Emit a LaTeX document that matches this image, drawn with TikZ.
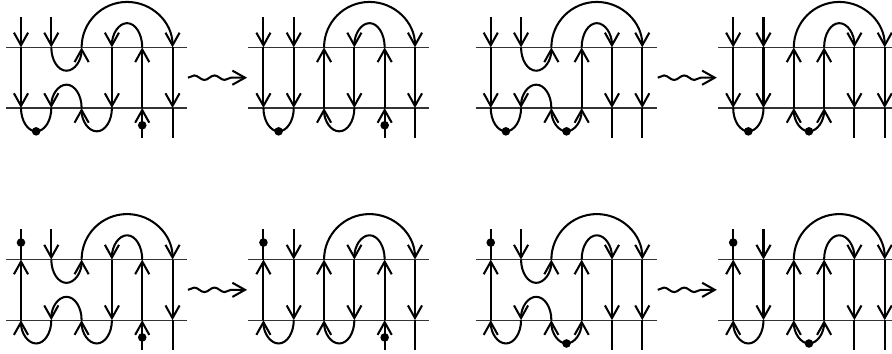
\documentclass[tikz,border=0pt]{standalone}
\usepackage{tikz}
\usetikzlibrary{arrows.meta,decorations.pathmorphing}

\tikzset{
  strand/.style={line width=1.15pt},
  tipped/.style={strand, -{Straight Barb[length=0.25cm,width=0.28cm,line width=1.15pt]}},
  bothtipped/.style={strand, {Straight Barb[length=0.25cm,width=0.28cm,line width=1.15pt]}-{Straight Barb[length=0.25cm,width=0.28cm,line width=1.15pt]}},
  level/.style={line width=0.6pt, black!80},
  bead/.style={circle, fill=black, inner sep=0pt, minimum size=0.17cm},
  wiggle/.style={strand, -{Straight Barb[length=0.25cm,width=0.28cm,line width=1.15pt]},
    decorate, decoration={snake, amplitude=0.045cm, segment length=0.4cm, post length=0.3cm}}
}

% parts shared by all panels
\newcommand{\strandbase}{
  \foreach \i in {1,...,6} {
    \coordinate (t\i) at (\i,2);
    \coordinate (b\i) at (\i,0);
  }
  \coordinate (ll) at (0.5,0);
  \coordinate (lr) at (6.47,0);
  \coordinate (ul) at (0.5,2);
  \coordinate (ur) at (6.47,2);
  \draw[level] (ul) -- (ur);
  \draw[level] (ll) -- (lr);
  \draw[tipped] (2,3) -- (t2);
  \draw[tipped] (t3) arc[start angle=180, end angle=0, radius=1.5];
  \draw[tipped] (t6) -- (b6);
  \draw[strand] (b6) -- (6,-1);
}

% first strand
\newcommand{\leftdown}{
  \draw[tipped] (1,3) -- (t1);
  \draw[tipped] (t1) -- (b1);
  \draw[strand] (b1) arc[start angle=180, end angle=360, x radius=0.5, y radius=0.77];
  \node[bead] (topbead) at (1.5,-0.77) {};
}
\newcommand{\leftup}{
  \draw[strand] (1,3) -- (t1);
  \draw[tipped] (b1) -- (t1);
  \draw[tipped] (b2) arc[start angle=360, end angle=180, x radius=0.5, y radius=0.77];
  \node[bead] (topbead) at (1,2.56) {};
}

% second and third strand
\newcommand{\middip}{
  \draw[tipped] (t2) arc[start angle=180, end angle=360, x radius=0.5, y radius=0.77];
  \draw[tipped] (b3) arc[start angle=0, end angle=180, x radius=0.5, y radius=0.77];
}
\newcommand{\midstraight}{
  \draw[tipped] (t2) -- (b2);
  \draw[tipped] (b3) -- (t3);
}

% fourth and fifth strand
\newcommand{\rightstub}{
  \draw[tipped] (t5) arc[start angle=0, end angle=180, x radius=0.5, y radius=0.8];
  \draw[tipped] (t4) -- (b4);
  \draw[tipped] (b4) arc[start angle=360, end angle=180, x radius=0.5, y radius=0.77];
  \draw[tipped] (5,-1) -- (b5);
  \draw[tipped] (b5) -- (t5);
  \node[bead] (lowbead) at (5,-0.57) {};
}
\newcommand{\rightcup}{
  \draw[tipped] (t4) arc[start angle=180, end angle=0, x radius=0.5, y radius=0.8];
  \draw[tipped] (t5) -- (b5);
  \draw[strand] (b5) -- (5,-1);
  \draw[tipped] (b4) -- (t4);
  \draw[bothtipped] (b3) arc[start angle=180, end angle=360, x radius=0.5, y radius=0.77];
  \node[bead] (lowbead) at (3.5,-0.77) {};
}

\begin{document}
\begin{tikzpicture}[x=0.6cm, y=0.6cm]
  \useasboundingbox (0.307,-8.086) rectangle (29.74,3.564);

  \foreach \dx/\dy/\lpart/\mpart/\rpart in {
      0/0/\leftdown/\middip/\rightstub,
      8/0/\leftdown/\midstraight/\rightstub,
      15.5/0/\leftdown/\middip/\rightcup,
      23.5/0/\leftdown/\midstraight/\rightcup,
      0/-7/\leftup/\middip/\rightstub,
      8/-7/\leftup/\midstraight/\rightstub,
      15.5/-7/\leftup/\middip/\rightcup,
      23.5/-7/\leftup/\midstraight/\rightcup} {
    \begin{scope}[shift={(\dx,\dy)}]
      \strandbase
      \lpart
      \mpart
      \rpart
    \end{scope}
  }

  % the wavy arrows
  \foreach \dx/\dy in {0/0,15.5/0,0/-7,15.5/-7} {
    \begin{scope}[shift={(\dx,\dy)}]
      \coordinate (wigstart) at (6.51,1);
      \coordinate (wigend) at (8.46,1);
      \draw[wiggle] (wigstart) -- (wigend);
    \end{scope}
  }
\end{tikzpicture}
\end{document}
